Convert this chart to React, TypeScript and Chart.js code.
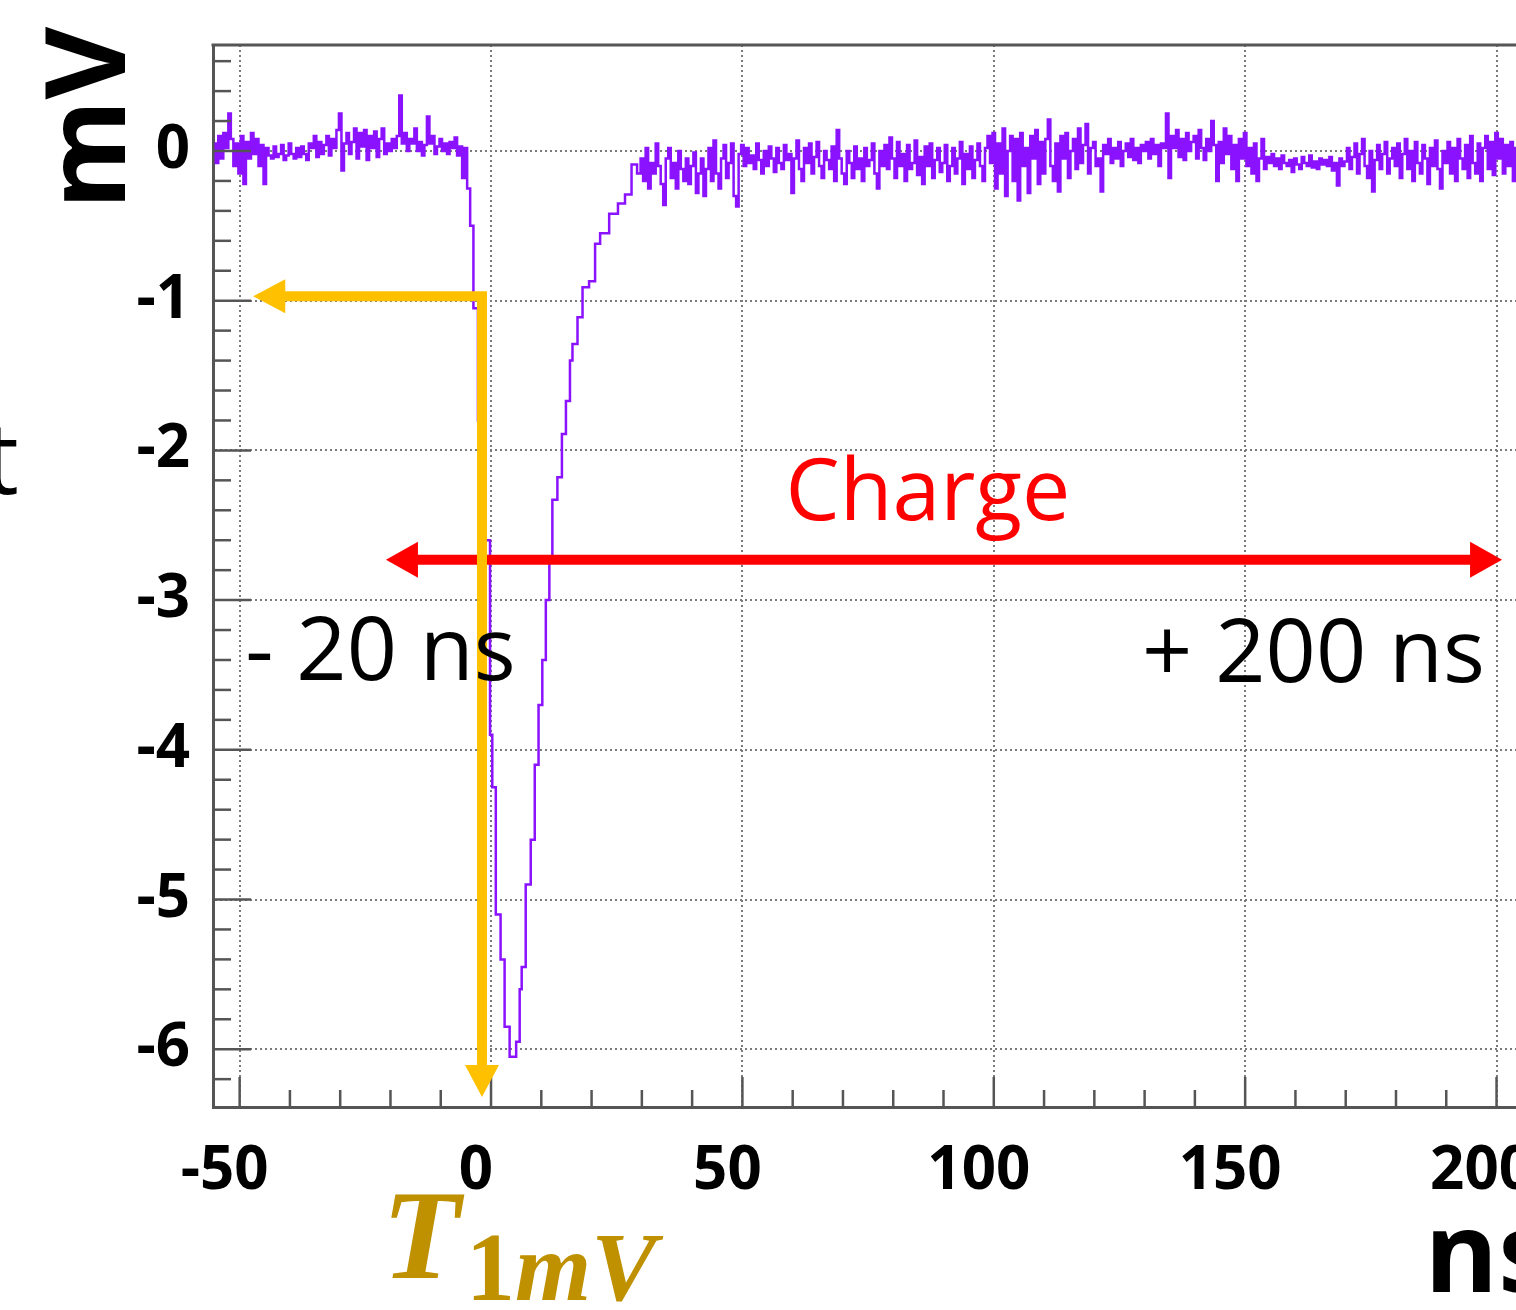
import React, { useEffect, useRef } from "react";
import { Chart, registerables } from "chart.js";

Chart.register(...registerables);

// ---- waveform data (mV), sampled every 0.5 ns on the baselines ----
const SAMPLE_STEP_NS = 0.5;
const PRE_START_NS = -55;
const preValues = [
  0.05, -0.08, 0.1, -0.05, 0.12, 0.02, 0.25, 0.08, -0.1, 0.05, -0.15, 0.1, -0.22, 0.06, -0.05, 0.12, -0.02, 0.08, -0.1, 0.04,
  -0.22, 0.02, -0.03, -0.05, 0.03, -0.04, -0.02, 0.04, -0.06, -0.03, 0.05, -0.02, -0.05, 0.02, -0.04, 0.03, -0.02, -0.06, 0.05, 0.02,
  0.1, -0.04, 0.06, -0.02, 0.04, 0.1, -0.03, 0.08, 0.02, 0.14, 0.25, -0.13, 0.05, 0.12, -0.02, 0.06, 0.15, -0.05, 0.12, 0.03,
  0.14, -0.06, 0.1, 0.02, 0.13, -0.04, 0.08, 0.15, -0.02, 0.05, 0.0, 0.08, 0.02, 0.1, 0.37, 0.05, 0.12, 0.0, 0.08, 0.05,
  0.15, 0.0, 0.06, -0.03, 0.04, 0.23, 0.05, 0.1, -0.02, 0.03, 0.08, 0.0, 0.05, -0.02, 0.06, 0.02, 0.09, -0.03, 0.03, -0.18,
  0.02,
];

const pulseTimes = [
  -4.5, -3.8, -3.2, -2, -0.4, 0, 0.5, 1.4, 2.4, 3, 4.4, 5.6, 5.8, 6.4, 7.4, 8.4, 9, 9.9, 10.5, 11.3,
  11.9, 12.5, 13.9, 14.3, 15.5, 15.9, 16.5, 17.9, 18.5, 20.5, 20.9, 22.5, 24.5, 26, 27.3, 28.6, 29.5,
];
const pulseValues = [
  -0.25, -0.5, -1.05, -1.8, -2.6, -3.9, -4.25, -5.1, -5.4, -5.85, -6.05, -5.95, -5.6, -5.45, -4.9, -4.6, -4.1, -3.7, -3.4, -3.0,
  -2.71, -2.33, -2.18, -1.89, -1.67, -1.4, -1.29, -1.11, -0.91, -0.87, -0.62, -0.55, -0.42, -0.35, -0.29, -0.09, -0.15,
];

const POST_START_NS = 30;
const postValues = [
  -0.05, -0.2, 0.02, -0.25, -0.08, -0.15, 0.05, -0.1, -0.22, -0.36, -0.05, 0.02, -0.18, -0.08, -0.25, 0.0, -0.12, -0.2, -0.05, -0.22,
  -0.1, -0.01, -0.28, -0.15, -0.05, -0.3, -0.12, 0.02, -0.2, 0.07, -0.15, -0.25, -0.05, 0.04, -0.18, -0.08, 0.05, -0.3, -0.37, -0.02,
  0.04, -0.1, 0.02, -0.08, -0.03, -0.12, 0.05, -0.06, -0.15, 0.0, -0.1, 0.03, -0.05, -0.14, 0.02, -0.08, -0.12, 0.04, -0.06, -0.02,
  -0.28, -0.05, 0.07, -0.12, -0.2, 0.02, -0.08, 0.05, -0.15, -0.04, 0.06, -0.1, -0.18, 0.0, -0.06, -0.12, 0.03, -0.2, 0.14, -0.05,
  -0.15, -0.22, 0.0, -0.08, -0.18, 0.03, -0.12, -0.05, -0.2, 0.02, -0.1, -0.06, 0.05, -0.15, -0.25, 0.0, -0.1, 0.04, -0.12, 0.09,
  -0.05, -0.18, 0.06, -0.1, -0.02, -0.2, 0.04, -0.12, -0.08, 0.07, -0.16, -0.04, -0.22, 0.03, -0.1, 0.05, -0.18, -0.06, 0.02, -0.14,
  -0.08, 0.04, -0.2, -0.1, 0.02, -0.15, -0.05, 0.06, -0.22, -0.02, -0.12, 0.03, -0.18, -0.06, 0.05, -0.1, -0.2, 0.02, 0.1, -0.08,
  0.12, -0.25, 0.05, -0.15, 0.15, -0.3, 0.0, 0.1, -0.2, 0.08, -0.33, 0.12, -0.1, 0.02, -0.28, 0.1, -0.05, 0.14, -0.22, 0.06,
  -0.15, 0.08, 0.21, -0.1, -0.2, 0.05, -0.27, 0.1, -0.05, 0.12, -0.18, 0.0, 0.08, -0.12, 0.15, -0.08, 0.04, 0.18, -0.15, 0.02,
  0.06, -0.1, -0.05, -0.27, 0.04, -0.02, 0.08, -0.08, 0.02, -0.05, 0.06, -0.1, 0.0, 0.05, -0.04, 0.08, -0.06, 0.02, -0.08, 0.04,
  0.0, 0.06, -0.05, 0.08, -0.02, 0.04, -0.1, 0.05, 0.02, 0.25, -0.18, 0.1, 0.02, 0.14, -0.04, 0.08, -0.06, 0.12, 0.0, 0.06,
  0.1, -0.05, 0.14, 0.02, -0.06, 0.08, 0.0, 0.2, 0.04, -0.2, 0.06, -0.08, 0.15, -0.02, 0.1, -0.12, 0.04, -0.2, 0.08, -0.05,
  0.12, -0.1, 0.02, -0.15, 0.05, -0.2, -0.05, 0.08, -0.12, -0.04, -0.08, -0.02, -0.1, -0.05, -0.12, -0.03, -0.08, -0.1, -0.06, -0.14,
  -0.05, -0.09, -0.12, -0.04, -0.08, -0.1, -0.03, -0.11, -0.07, -0.12, -0.05, -0.09, -0.06, -0.1, -0.04, -0.13, -0.08, -0.23, -0.05, -0.1,
  -0.07, 0.02, -0.12, -0.04, 0.05, -0.15, -0.02, 0.08, -0.1, -0.18, 0.0, -0.27, -0.06, 0.04, -0.12, -0.02, 0.06, -0.15, -0.05, 0.02,
  -0.1, 0.05, -0.18, -0.02, 0.08, -0.12, 0.0, -0.2, 0.06, -0.08, -0.15, 0.04, -0.05, -0.22, 0.02, -0.1, 0.07, -0.12, -0.25, 0.0,
  -0.08, 0.06, -0.15, 0.02, -0.2, 0.08, -0.05, -0.12, 0.04, -0.18, 0.1, -0.08, -0.15, 0.05, -0.2, 0.02, 0.1, -0.12, 0.06, -0.16,
  0.12, -0.05, 0.08, -0.15, 0.04, -0.1, 0.06, -0.2, 0.02,
];

// ---- axes ----
const xTickValues = [-50, 0, 50, 100, 150, 200];
const yTickValues = [-6, -5, -4, -3, -2, -1, 0];
const X_MIN = -55.3;
const X_MAX = 216.6;
const Y_MIN = -6.386;
const Y_MAX = 0.708;
const X_MAJOR = 50;
const X_MINOR = 10;
const Y_MAJOR = 1;
const Y_MINOR = 0.2;
const X_TITLE = "ns";
const Y_TITLE = "mV";

// ---- annotations (data units) ----
const T1MV_TIME_NS = -1.8;
const T1MV_LEVEL_MV = -0.97;
const T1MV_DOWN_TIP_MV = -6.32;
const T1MV_LEFT_TIP_NS = -47.3;
const CHARGE_START_NS = -20.9;
const CHARGE_END_NS = 201.1;
const CHARGE_LEVEL_MV = -2.73;
const CHARGE_LABEL = "Charge";
const CHARGE_LABEL_AT = { x: 86.9, y: -2.465 };
const START_LABEL = "- 20 ns";
const START_LABEL_AT = { x: -48.9, y: -3.534 };
const END_LABEL = "+ 200 ns";
const END_LABEL_AT = { x: 197.7, y: -3.547 };

const PURPLE = "#8A12FF";
const ORANGE = "#FFC000";
const RED = "#FF0000";
const GOLD = "#BF9000";
const AXIS = "#555555";
const GRID = "#7a7a7a";

function buildPoints() {
  const pts: { x: number; y: number }[] = [];
  preValues.forEach((v, i) => pts.push({ x: PRE_START_NS + i * SAMPLE_STEP_NS, y: v }));
  pulseTimes.forEach((t, i) => pts.push({ x: t, y: pulseValues[i] }));
  postValues.forEach((v, i) => pts.push({ x: POST_START_NS + i * SAMPLE_STEP_NS, y: v }));
  return pts;
}

function arrowHead(ctx: CanvasRenderingContext2D, tipX: number, tipY: number, dx: number, dy: number, len: number, half: number) {
  const bx = tipX - dx * len;
  const by = tipY - dy * len;
  const px = -dy;
  const py = dx;
  ctx.beginPath();
  ctx.moveTo(tipX, tipY);
  ctx.lineTo(bx + px * half, by + py * half);
  ctx.lineTo(bx - px * half, by - py * half);
  ctx.closePath();
  ctx.fill();
}

const overlayPlugin = {
  id: "overlay",
  afterDatasetsDraw(chart: any) {
    const { ctx, chartArea: a, scales } = chart;
    const xs = scales.x;
    const ys = scales.y;
    ctx.save();

    // inner tick marks
    ctx.strokeStyle = AXIS;
    ctx.lineWidth = 2.5;
    const yStart = Math.ceil(Y_MIN / Y_MINOR);
    const yEnd = Math.floor(Y_MAX / Y_MINOR);
    for (let k = yStart; k <= yEnd; k++) {
      const v = Math.round(k * Y_MINOR * 10) / 10;
      const major = Math.abs(v / Y_MAJOR - Math.round(v / Y_MAJOR)) < 1e-6;
      const py = ys.getPixelForValue(v);
      ctx.beginPath();
      ctx.moveTo(a.left, py);
      ctx.lineTo(a.left + (major ? 38 : 18), py);
      ctx.stroke();
    }
    const xStart = Math.ceil(X_MIN / X_MINOR);
    const xEnd = Math.floor(X_MAX / X_MINOR);
    for (let k = xStart; k <= xEnd; k++) {
      const v = k * X_MINOR;
      const major = v % X_MAJOR === 0;
      const px = xs.getPixelForValue(v);
      ctx.beginPath();
      ctx.moveTo(px, a.bottom);
      ctx.lineTo(px, a.bottom - (major ? 30 : 17));
      ctx.stroke();
    }

    // top frame
    ctx.lineWidth = 3;
    ctx.beginPath();
    ctx.moveTo(a.left - 1.5, a.top);
    ctx.lineTo(chart.width, a.top);
    ctx.stroke();

    // Charge double arrow
    const cy = ys.getPixelForValue(CHARGE_LEVEL_MV);
    const cx1 = xs.getPixelForValue(CHARGE_START_NS);
    const cx2 = xs.getPixelForValue(CHARGE_END_NS);
    ctx.strokeStyle = RED;
    ctx.fillStyle = RED;
    ctx.lineWidth = 10;
    ctx.lineCap = "butt";
    ctx.beginPath();
    ctx.moveTo(cx1 + 28, cy);
    ctx.lineTo(cx2 - 28, cy);
    ctx.stroke();
    arrowHead(ctx, cx1, cy, -1, 0, 32, 18);
    arrowHead(ctx, cx2, cy, 1, 0, 32, 18);

    // T_1mV arrows
    const tx = xs.getPixelForValue(T1MV_TIME_NS);
    const ty = ys.getPixelForValue(T1MV_LEVEL_MV);
    const downTip = ys.getPixelForValue(T1MV_DOWN_TIP_MV);
    const leftTip = xs.getPixelForValue(T1MV_LEFT_TIP_NS);
    ctx.strokeStyle = ORANGE;
    ctx.fillStyle = ORANGE;
    ctx.lineWidth = 10;
    ctx.lineJoin = "miter";
    ctx.beginPath();
    ctx.moveTo(leftTip + 28, ty);
    ctx.lineTo(tx, ty);
    ctx.lineTo(tx, downTip - 28);
    ctx.stroke();
    arrowHead(ctx, leftTip, ty, -1, 0, 32, 17);
    arrowHead(ctx, tx, downTip, 0, 1, 32, 17);

    // in-plot labels
    ctx.textBaseline = "alphabetic";
    ctx.fillStyle = RED;
    ctx.font = '86px "Open Sans"';
    ctx.textAlign = "center";
    ctx.fillText(CHARGE_LABEL, xs.getPixelForValue(CHARGE_LABEL_AT.x), ys.getPixelForValue(CHARGE_LABEL_AT.y));
    ctx.fillStyle = "#000";
    ctx.font = '88px "Open Sans"';
    ctx.textAlign = "left";
    ctx.fillText(START_LABEL, xs.getPixelForValue(START_LABEL_AT.x), ys.getPixelForValue(START_LABEL_AT.y));
    ctx.textAlign = "right";
    ctx.fillText(END_LABEL, xs.getPixelForValue(END_LABEL_AT.x), ys.getPixelForValue(END_LABEL_AT.y));

    // axis titles
    ctx.fillStyle = "#000";
    ctx.font = 'bold 112px "Open Sans"';
    ctx.save();
    ctx.translate(a.left - 88, a.top + 73);
    ctx.rotate(-Math.PI / 2);
    ctx.textAlign = "center";
    ctx.fillText(Y_TITLE, 0, 0);
    ctx.restore();
    ctx.textAlign = "left";
    ctx.fillText(X_TITLE, xs.getPixelForValue(200) - 72, a.bottom + 185);

    // cropped neighbouring text
    ctx.font = '100px "Open Sans"';
    ctx.textAlign = "right";
    ctx.fillText("t", 19, ys.getPixelForValue(-2.29));

    // T_1mV label
    ctx.fillStyle = GOLD;
    ctx.textAlign = "left";
    const lx = tx - 100;
    ctx.font = 'italic bold 128px "Liberation Serif"';
    ctx.fillText("T", lx, a.bottom + 171);
    ctx.font = 'bold 98px "Liberation Serif"';
    const sx = lx + 84;
    ctx.fillText("1", sx, a.bottom + 193);
    const w1 = ctx.measureText("1").width;
    ctx.font = 'italic bold 98px "Liberation Serif"';
    ctx.fillText("mV", sx + w1, a.bottom + 193);

    ctx.restore();
  },
};

export default function App() {
  const canvasRef = useRef<HTMLCanvasElement | null>(null);

  useEffect(() => {
    document.body.style.margin = "0";
    const canvas = canvasRef.current;
    if (!canvas) return;
    const tickFont = { family: "Open Sans", weight: "bold" as const, size: 60 };
    const chart = new Chart(canvas, {
      type: "line",
      data: {
        datasets: [
          {
            data: buildPoints(),
            borderColor: PURPLE,
            borderWidth: 2.5,
            pointRadius: 0,
            stepped: "middle",
            fill: false,
          },
        ],
      },
      options: {
        animation: false,
        responsive: false,
        maintainAspectRatio: false,
        events: [],
        layout: { padding: { top: 45, right: 20, left: 0, bottom: 0 } },
        plugins: { legend: { display: false }, tooltip: { enabled: false }, title: { display: false } },
        scales: {
          x: {
            type: "linear",
            min: X_MIN,
            max: X_MAX,
            bounds: "data",
            afterBuildTicks: (s: any) => {
              s.ticks = xTickValues.map((v) => ({ value: v }));
            },
            afterFit: (s: any) => {
              s.height = 203;
              s.paddingLeft = 0;
              s.paddingRight = 0;
            },
            ticks: {
              autoSkip: false,
              maxRotation: 0,
              font: tickFont,
              color: "#000",
              padding: 29,
              labelOffset: -15,
              callback: (v: any) => String(v),
            },
            grid: { color: GRID, lineWidth: 2, drawTicks: false },
            border: { display: true, color: AXIS, width: 3, dash: [2, 3] },
          },
          y: {
            type: "linear",
            min: Y_MIN,
            max: Y_MAX,
            bounds: "data",
            afterBuildTicks: (s: any) => {
              s.ticks = yTickValues.map((v) => ({ value: v }));
            },
            afterFit: (s: any) => {
              s.width = 213;
              s.paddingTop = 0;
              s.paddingBottom = 0;
            },
            ticks: {
              autoSkip: false,
              font: tickFont,
              color: "#000",
              padding: 23,
              callback: (v: any) => String(v),
            },
            grid: { color: GRID, lineWidth: 2, drawTicks: false },
            border: { display: true, color: AXIS, width: 3, dash: [2, 3] },
          },
        },
      },
      plugins: [overlayPlugin],
    });
    return () => chart.destroy();
  }, []);

  return (
    <div style={{ width: 1516, height: 1310, overflow: "hidden", position: "relative", background: "#fff" }}>
      <canvas
        ref={canvasRef}
        width={1600}
        height={1310}
        style={{ position: "absolute", left: 0, top: 0, width: 1600, height: 1310 }}
      />
    </div>
  );
}
